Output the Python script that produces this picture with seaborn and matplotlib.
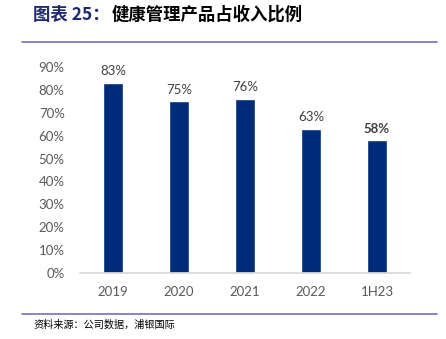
import matplotlib
matplotlib.use("Agg")
import matplotlib.pyplot as plt
import seaborn as sns
import pandas as pd
from matplotlib.lines import Line2D

categories = ["2019", "2020", "2021", "2022", "1H23"]
values = [0.83, 0.75, 0.76, 0.63, 0.58]
labels = ["83%", "75%", "76%", "63%", "58%"]
yticks = [0.0, 0.1, 0.2, 0.3, 0.4, 0.5, 0.6, 0.7, 0.8, 0.9]
ytick_labels = ["0%", "10%", "20%", "30%", "40%", "50%", "60%", "70%", "80%", "90%"]

sns.set_theme(style="white")
plt.rcParams['font.family'] = ['Lato', 'Noto Sans CJK SC', 'DejaVu Sans']

df = pd.DataFrame({"cat": categories, "val": values})

fig = plt.figure(figsize=(4.46, 3.39), dpi=100)
ax = fig.add_axes([80/446, 1-273/339, 330/446, (273-67)/339])
sns.barplot(data=df, x="cat", y="val", color="#002B7A", width=0.3, saturation=1, ax=ax)
ax.set_xlim(-0.5, 4.5)
ax.set_ylim(0, 0.9)
ax.set_yticks(yticks)
ax.set_yticklabels(ytick_labels)
ax.set_xlabel("")
ax.set_ylabel("")
for s in ["top", "right", "left"]:
    ax.spines[s].set_visible(False)
ax.spines["bottom"].set_color("#D9D9D9")
ax.tick_params(axis="both", length=0, labelsize=9.5, colors="#595959")
ax.tick_params(axis="y", pad=11)
ax.tick_params(axis="x", pad=9)
for i, (v, t) in enumerate(zip(values, labels)):
    ax.text(i, v + 0.025, t, ha="center", va="bottom", fontsize=9.5,
            color="#404040", fontweight="bold" if i == 4 else "normal")

cjk = ['Noto Sans CJK SC', 'DejaVu Sans']
fig.text(33/446, 1-15/339, "图表 25：", fontsize=12.5, fontweight="bold",
         color="#1F2A6E", va="center", ha="left", family=cjk)
fig.text(112/446, 1-15/339, "健康管理产品占收入比例", fontsize=12.5, fontweight="bold",
         color="#000000", va="center", ha="left", family=cjk)
fig.add_artist(Line2D([22/446, 437/446], [1-42/339, 1-42/339], color="#7B6FB0", lw=1.2))
fig.add_artist(Line2D([22/446, 437/446], [1-314/339, 1-314/339], color="#7B6FB0", lw=1.2))
fig.text(33/446, 1-325/339, "资料来源：公司数据，浦银国际", fontsize=7.3,
         color="#000000", va="center", ha="left", family=cjk)

fig.savefig("out.png", dpi=100)
